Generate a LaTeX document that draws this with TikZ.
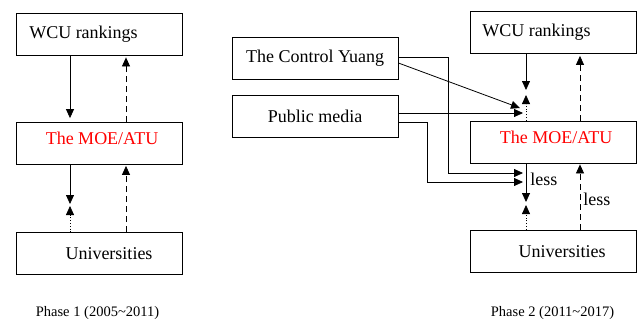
\documentclass[tikz,border=0pt]{standalone}
\usepackage{fontspec}
\setmainfont{Liberation Serif}
\usetikzlibrary{arrows.meta}

\tikzset{
  box/.style={draw, line width=0.8pt, minimum width=166pt, minimum height=42pt, inner sep=0pt},
  lbl/.style={font=\fontsize{18}{20}\selectfont, inner sep=0pt},
  phase/.style={font=\fontsize{14.5}{16}\selectfont, inner sep=0pt},
  link/.style={line width=0.8pt},
  tip/.style={-{Triangle[length=9pt,width=8pt]}},
  dashline/.style={dash pattern=on 6pt off 4pt},
}

\begin{document}
\begin{tikzpicture}[x=1pt, y=-1pt]
  \useasboundingbox (0,0) rectangle (637,324);

  % phase 1
  \node [box] (wcuL) at (99,34) {};
  \node [box] (moeL) at (99,143.5) {};
  \node [box] (uniL) at (99,253.5) {};
  \node [lbl] (wcuLt) at (83.5,34) {WCU rankings};
  \node [lbl, red] (moeLt) at (102,138) {The MOE/ATU};
  \node [lbl] (uniLt) at (109,254) {Universities};
  \node [phase] (ph1) at (97.5,313) {Phase 1 (2005\textasciitilde2011)};

  \coordinate (aL) at (70,0);
  \coordinate (bL) at (126,0);
  \coordinate (midL) at (70,205);
  \draw [link, tip, shorten >=4pt] (wcuL.south -| aL) -- (moeL.north -| aL);
  \draw [link, tip, dashline, shorten >=2pt] (moeL.north -| bL) -- (wcuL.south -| bL);
  \draw [link, tip, shorten >=1pt] (moeL.south -| aL) -- (midL);
  \draw [link, tip, dotted, shorten >=1pt] (uniL.north -| aL) -- (midL);
  \draw [link, tip, dashline, shorten >=1pt] (uniL.north -| bL) -- (moeL.south -| bL);

  % phase 2
  \node [box] (wcuR) at (553,32.5) {};
  \node [box] (moeR) at (553,142) {};
  \node [box] (uniR) at (553,251) {};
  \node [box] (cy) at (315,58) {};
  \node [box] (pm) at (315,116) {};
  \node [lbl] (wcuRt) at (536.5,32.5) {WCU rankings};
  \node [lbl, red] (moeRt) at (556,137.5) {The MOE/ATU};
  \node [lbl] (uniRt) at (562,251.5) {Universities};
  \node [lbl] (cyt) at (315,58) {The Control Yuang};
  \node [lbl] (pmt) at (315,116) {Public media};
  \node [phase] (ph2) at (552.5,313) {Phase 2 (2011\textasciitilde2017)};

  \coordinate (aR) at (526,0);
  \coordinate (bR) at (580,0);
  \coordinate (topR) at (526,92.5);
  \coordinate (midR) at (526,203.5);
  \draw [link, tip, shorten >=2.5pt] (wcuR.south -| aR) -- (topR);
  \draw [link, tip, dotted, shorten >=2.5pt] (moeR.north -| aR) -- (topR);
  \draw [link, tip, dashline, shorten >=2pt] (moeR.north -| bR) -- (wcuR.south -| bR);
  \draw [link, tip, shorten >=1.5pt] (moeR.south -| aR) -- (midR)
    node [lbl, anchor=west, pos=0.4, xshift=4pt] (lessA) {less};
  \draw [link, tip, dotted, shorten >=1.5pt] (uniR.north -| aR) -- (midR);
  \draw [link, tip, dashline, shorten >=1pt] (uniR.north -| bR) -- (moeR.south -| bR)
    node [lbl, anchor=west, pos=0.45, xshift=3pt] (lessB) {less};

  % outside pressure
  \coordinate (hitA) at (520,108);
  \coordinate (hitB) at (523,113);
  \coordinate (hitC) at (523,173);
  \coordinate (hitD) at (523,182);
  \coordinate (bendC) at (448,0);
  \coordinate (bendD) at (427,0);
  \draw [link, tip] ([yshift=-5pt]cy.east) -- (hitA);
  \draw [link, tip] ([yshift=3pt]pm.east) -- (hitB);
  \draw [link, tip] ([yshift=1pt]cy.east) -| (bendC |- hitC) -- (hitC);
  \draw [link, tip] ([yshift=-6pt]pm.east) -| (bendD |- hitD) -- (hitD);
\end{tikzpicture}
\end{document}
